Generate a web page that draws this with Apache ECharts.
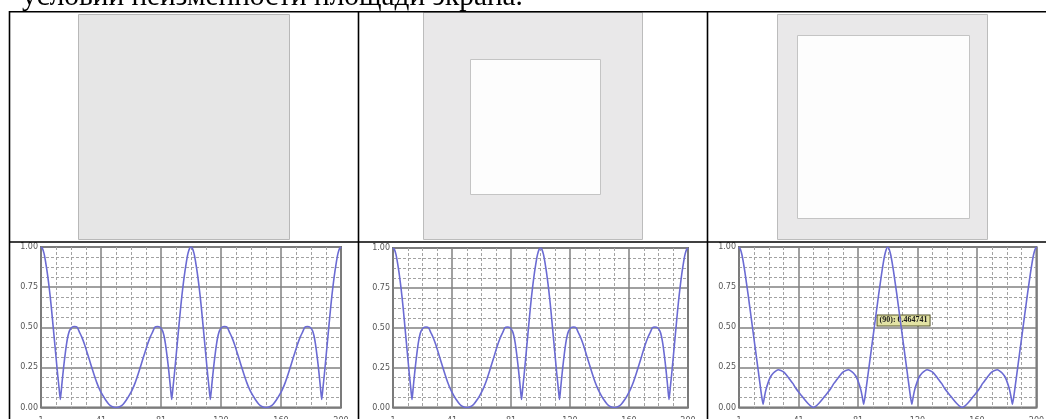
<!DOCTYPE html>
<html>
<head>
<meta charset="utf-8">
<script src="https://cdn.jsdelivr.net/npm/echarts@6/dist/echarts.min.js"></script>
<style>
html,body{margin:0;padding:0;background:#fff;}
#c{width:1046px;height:419px;}
</style>
</head>
<body>
<div id="c"></div>
<script>
// ---- data ----
const captionText = 'условий неизменности площади экрана.';
const xTickLabels = ['1', '41', '81', '120', '160', '200'];
const yTickLabels = ['0.00', '0.25', '0.50', '0.75', '1.00'];

// curve shown in the 1st and 2nd charts: [sample index, value]
const seriesA = [
  [0,1.00],[1,0.99],[2,0.96],[3,0.91],[4,0.85],[5,0.78],[6,0.70],[7,0.61],[8,0.51],[9,0.41],[10,0.31],[11,0.21],[12,0.12],[12.8,0.05],[13.5,0.11],[14,0.16],[15,0.25],[16,0.33],[17,0.40],[18,0.45],[19,0.48],[20.5,0.50],[22.3,0.505],[24,0.50],[25.5,0.47],[27,0.44],[29,0.39],[31,0.33],[33,0.27],[35,0.21],[37,0.155],[39,0.11],[41,0.075],[43,0.045],[45,0.02],[47,0.006],[49.75,0],
  [52.5,0.006],[54.5,0.02],[56.5,0.045],[58.5,0.075],[60.5,0.11],[62.5,0.155],[64.5,0.21],[66.5,0.27],[68.5,0.33],[70.5,0.39],[72.5,0.44],[74,0.47],[75.5,0.50],[77.2,0.505],[79,0.50],[80.5,0.48],[81.5,0.45],[82.5,0.40],[83.5,0.33],[84.5,0.25],[85.5,0.16],[86,0.11],[86.7,0.05],[87.5,0.12],[88.5,0.21],[89.5,0.31],[90.5,0.41],[91.5,0.51],[92.5,0.61],[93.5,0.70],[94.5,0.78],[95.5,0.85],[96.5,0.91],[97.5,0.96],[98.5,0.99],[99.5,1.00],
  [100.5,0.99],[101.5,0.96],[102.5,0.91],[103.5,0.85],[104.5,0.78],[105.5,0.70],[106.5,0.61],[107.5,0.51],[108.5,0.41],[109.5,0.31],[110.5,0.21],[111.5,0.12],[112.3,0.05],[113,0.11],[113.5,0.16],[114.5,0.25],[115.5,0.33],[116.5,0.40],[117.5,0.45],[118.5,0.48],[120,0.50],[121.8,0.505],[123.5,0.50],[125,0.47],[126.5,0.44],[128.5,0.39],[130.5,0.33],[132.5,0.27],[134.5,0.21],[136.5,0.155],[138.5,0.11],[140.5,0.075],[142.5,0.045],[144.5,0.02],[146.5,0.006],[149.25,0],
  [152,0.006],[154,0.02],[156,0.045],[158,0.075],[160,0.11],[162,0.155],[164,0.21],[166,0.27],[168,0.33],[170,0.39],[172,0.44],[173.5,0.47],[175,0.50],[176.7,0.505],[178.5,0.50],[180,0.48],[181,0.45],[182,0.40],[183,0.33],[184,0.25],[185,0.16],[185.5,0.11],[186.2,0.05],[187,0.12],[188,0.21],[189,0.31],[190,0.41],[191,0.51],[192,0.61],[193,0.70],[194,0.78],[195,0.85],[196,0.91],[197,0.96],[198,0.99],[199,1.00]
];

// curve shown in the 3rd chart: [sample index, value]
const seriesB = [
  [0,1.00],[1,0.985],[2,0.95],[3,0.90],[4,0.84],[5,0.775],[6,0.71],[7,0.64],[8,0.57],[9,0.50],[9.5,0.465],[10,0.43],[11,0.36],[12,0.29],[13,0.22],[14,0.15],[15,0.08],[16.1,0.02],[17,0.065],[18,0.11],[19.5,0.155],[21,0.19],[23,0.215],[25,0.23],[26.3,0.235],[28,0.23],[30,0.22],[32,0.20],[34,0.175],[36,0.15],[38,0.12],[40,0.095],[42,0.072],[44,0.048],[46,0.026],[48,0.008],[49.75,0],
  [51.5,0.008],[53.5,0.026],[55.5,0.048],[57.5,0.072],[59.5,0.095],[61.5,0.12],[63.5,0.15],[65.5,0.175],[67.5,0.20],[69.5,0.22],[71.5,0.23],[73.2,0.235],[74.5,0.23],[76.5,0.215],[78.5,0.19],[80,0.155],[81.5,0.11],[82.5,0.065],[83.4,0.02],[84.5,0.08],[85.5,0.15],[86.5,0.22],[87.5,0.29],[88.5,0.36],[89.5,0.43],[90,0.464741],[90.5,0.50],[91.5,0.57],[92.5,0.64],[93.5,0.71],[94.5,0.775],[95.5,0.84],[96.5,0.90],[97.5,0.95],[98.5,0.985],[99.5,1.00],
  [100.5,0.985],[101.5,0.95],[102.5,0.90],[103.5,0.84],[104.5,0.775],[105.5,0.71],[106.5,0.64],[107.5,0.57],[108.5,0.50],[109.5,0.43],[110.5,0.36],[111.5,0.29],[112.5,0.22],[113.5,0.15],[114.5,0.08],[115.6,0.02],[116.5,0.065],[117.5,0.11],[119,0.155],[120.5,0.19],[122.5,0.215],[124.5,0.23],[125.8,0.235],[127.5,0.23],[129.5,0.22],[131.5,0.20],[133.5,0.175],[135.5,0.15],[137.5,0.12],[139.5,0.095],[141.5,0.072],[143.5,0.048],[145.5,0.026],[147.5,0.008],[149.25,0],
  [151,0.008],[153,0.026],[155,0.048],[157,0.072],[159,0.095],[161,0.12],[163,0.15],[165,0.175],[167,0.20],[169,0.22],[171,0.23],[172.7,0.235],[174,0.23],[176,0.215],[178,0.19],[179.5,0.155],[181,0.11],[182,0.065],[182.9,0.02],[184,0.08],[185,0.15],[186,0.22],[187,0.29],[188,0.36],[189,0.43],[190,0.50],[191,0.57],[192,0.64],[193,0.71],[194,0.775],[195,0.84],[196,0.90],[197,0.95],[198,0.985],[199,1.00]
];

const probeIndex = 90;
const probeValue = 0.464741;

// ---- chart ----
const chart = echarts.init(document.getElementById('c'), null, {renderer: 'canvas'});

const grids = [
  {left: 41, top: 247, width: 300, height: 160.5},
  {left: 393, top: 248, width: 295, height: 159.5},
  {left: 739, top: 247, width: 297.5, height: 160.5}
];

function mkX(i) {
  return {
    type: 'value', gridIndex: i, min: 0, max: 199, interval: 39.8,
    axisLine: {show: false}, axisTick: {show: false},
    axisLabel: {
      fontSize: 8, color: '#555', margin: 9, fontFamily: 'DejaVu Sans',
      showMinLabel: true, showMaxLabel: true,
      formatter: (v, idx) => xTickLabels[idx] !== undefined ? xTickLabels[idx] : ''
    },
    splitLine: {show: true, lineStyle: {color: '#808080', width: 1.5}},
    minorTick: {show: false, splitNumber: 4},
    minorSplitLine: {show: true, lineStyle: {color: '#a2a2a2', width: 1, type: [3, 2]}}
  };
}
function mkY(i) {
  return {
    type: 'value', gridIndex: i, min: 0, max: 1, interval: 0.25,
    axisLine: {show: false}, axisTick: {show: false},
    axisLabel: {
      fontSize: 8, color: '#555', margin: 3, fontFamily: 'DejaVu Sans',
      formatter: (v, idx) => yTickLabels[idx] !== undefined ? yTickLabels[idx] : ''
    },
    splitLine: {show: true, lineStyle: {color: '#808080', width: 1.5}},
    minorTick: {show: false, splitNumber: 4},
    minorSplitLine: {show: true, lineStyle: {color: '#a2a2a2', width: 1, type: [3, 2]}}
  };
}
function mkSeries(i, data) {
  return {
    type: 'line', xAxisIndex: i, yAxisIndex: i, data: data,
    showSymbol: false, symbol: 'none', smooth: 0.2, animation: false,
    lineStyle: {color: '#6b6bd3', width: 1.6},
    z: 5
  };
}

const line = (x1, y1, x2, y2) => ({
  type: 'line', shape: {x1, y1, x2, y2},
  style: {stroke: '#000', lineWidth: 1.6}, z: 100
});
const rect = (x, y, w, h, fill, stroke) => ({
  type: 'rect', shape: {x, y, width: w, height: h},
  style: {fill, stroke, lineWidth: 1}, z: 50
});

const s3 = mkSeries(2, seriesB);
s3.markPoint = {
  symbol: 'circle', symbolSize: 0, animation: false,
  data: [{coord: [probeIndex, probeValue]}],
  label: {
    show: true, position: 'right', distance: 4, offset: [0, -12.5],
    formatter: '(' + probeIndex + '): ' + probeValue,
    backgroundColor: '#e3e3a4', borderColor: '#55552a', borderWidth: 1,
    padding: [1, 2, 0, 2], fontSize: 8, fontWeight: 'bold', lineHeight: 9,
    fontFamily: 'Liberation Serif', color: '#1a1a1a'
  }
};

chart.setOption({
  animation: false,
  backgroundColor: '#fff',
  grid: grids.map(g => Object.assign({
    show: true, borderColor: '#6e6e6e', borderWidth: 2, backgroundColor: 'transparent',
    containLabel: false, outerBoundsMode: 'none'
  }, g)),
  xAxis: [mkX(0), mkX(1), mkX(2)],
  yAxis: [mkY(0), mkY(1), mkY(2)],
  series: [mkSeries(0, seriesA), mkSeries(1, seriesA), s3],
  graphic: [
    {type: 'text', left: 22, top: -17, z: 100,
     style: {text: captionText, font: '29.3px "Liberation Serif"', fill: '#000'}},
    line(9, 11.8, 1046, 11.8),
    line(9, 242, 1046, 242),
    line(9.5, 11, 9.5, 419),
    line(358.5, 11, 358.5, 419),
    line(707.5, 11, 707.5, 419),
    rect(78.5, 14.5, 211, 225, '#e6e6e6', '#b8b8b8'),
    rect(423.5, 12.5, 219, 227, '#e9e8e9', '#bcbcbc'),
    rect(470.5, 59.5, 130, 135, '#fdfdfd', '#c4c4c4'),
    rect(777.5, 14.5, 210, 225, '#e9e8e9', '#bcbcbc'),
    rect(797.5, 35.5, 172, 183, '#fdfdfd', '#c4c4c4')
  ]
});
</script>
</body>
</html>
